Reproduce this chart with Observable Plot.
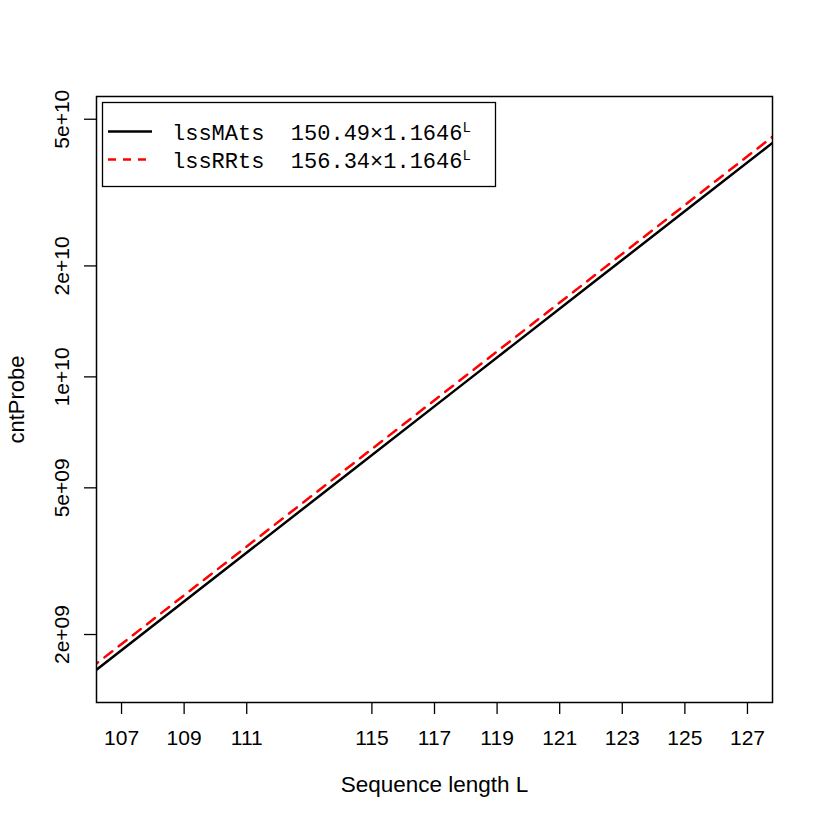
<!DOCTYPE html>
<html>
<head>
<meta charset="utf-8">
<script src="https://cdn.jsdelivr.net/npm/d3@7"></script>
<script src="https://cdn.jsdelivr.net/npm/@observablehq/plot@0.6"></script>
<style>
  html, body { margin: 0; padding: 0; background: #ffffff; }
  #chart { width: 822px; height: 822px; }
</style>
</head>
<body>
<div id="chart"></div>
<script>
// Sequence length L
const seqLength = [106, 110, 114, 118, 122, 126, 128];
// cntProbe values
const lssMAts = [1.557e9, 2.864e9, 5.268e9, 9.692e9, 1.783e10, 3.280e10, 4.447e10];
const lssRRts = [1.618e9, 2.976e9, 5.473e9, 1.0068e10, 1.852e10, 3.407e10, 4.620e10];

const seriesNames = ["lssMAts", "lssRRts"];
const seriesCoef = ["150.49", "156.34"];
const seriesBase = ["1.1646", "1.1646"];
const seriesColors = ["black", "red"];
const seriesDash = [null, "10,8"];

const xTicks = [107, 109, 111, 115, 117, 119, 121, 123, 125, 127];
const yTicks = [2e9, 5e9, 1e10, 2e10, 5e10];
const yTickLabels = ["2e+09", "5e+09", "1e+10", "2e+10", "5e+10"];

const rows = seqLength.map((L, i) => ({L, ma: lssMAts[i], rr: lssRRts[i]}));

const sansFont = "'Liberation Sans', Arial, Helvetica, sans-serif";

const plot = Plot.plot({
  width: 822,
  height: 822,
  marginLeft: 96,
  marginRight: 50,
  marginTop: 96,
  marginBottom: 120,
  style: {fontFamily: sansFont, fontSize: "21px", color: "black", background: "white"},
  x: {domain: [106.2, 127.8]},
  y: {type: "log", domain: [1.308e9, 5.763e10]},
  marks: [
    Plot.line(rows, {x: "L", y: "ma", stroke: seriesColors[0], strokeWidth: 2.5, clip: true}),
    Plot.line(rows, {x: "L", y: "rr", stroke: seriesColors[1], strokeWidth: 2.5, strokeDasharray: seriesDash[1], clip: true}),
    Plot.frame({stroke: "black", strokeWidth: 1.5}),
    Plot.axisX(xTicks, {tickSize: 12, tickPadding: 16, fontSize: 21, label: null, strokeWidth: 1.3}),
    Plot.axisY(yTicks, {tickSize: 12, tickFormat: () => "", label: null, strokeWidth: 1.3}),
    Plot.text(yTicks, {
      y: d => d, text: (d, i) => yTickLabels[i], frameAnchor: "left",
      dx: -28, rotate: -90, lineAnchor: "bottom", textAnchor: "middle", fontSize: 21
    }),
    Plot.text(["cntProbe"], {
      text: d => d, frameAnchor: "left", dx: -73, rotate: -90,
      lineAnchor: "bottom", textAnchor: "middle", fontSize: 22
    }),
    Plot.text(["Sequence length L"], {
      text: d => d, frameAnchor: "bottom", dy: 89,
      lineAnchor: "bottom", textAnchor: "middle", fontSize: 22.5
    })
  ]
});

// Legend (drawn on top of the plot SVG)
const svg = d3.select(plot);
const lg = svg.append("g").attr("class", "legend").attr("text-anchor", "start");
lg.append("rect")
  .attr("x", 102.5).attr("y", 102.5).attr("width", 393).attr("height", 84)
  .attr("fill", "white").attr("stroke", "black").attr("stroke-width", 1.3);
seriesNames.forEach((name, i) => {
  const yLine = 131.5 + i * 28;
  const yText = 140 + i * 28;
  const ln = lg.append("line")
    .attr("x1", 108).attr("x2", 152).attr("y1", yLine).attr("y2", yLine)
    .attr("stroke", seriesColors[i]).attr("stroke-width", 2.5);
  if (seriesDash[i]) ln.attr("stroke-dasharray", "8,7");
  const t = lg.append("text")
    .attr("x", 172).attr("y", yText)
    .attr("text-anchor", "start")
    .attr("font-family", "'Liberation Mono', 'Courier New', monospace")
    .attr("font-size", 22)
    .attr("fill", "black")
    .attr("xml:space", "preserve")
    .style("white-space", "pre");
  t.append("tspan").text(`${name}  ${seriesCoef[i]}\u00d7${seriesBase[i]}`);
  t.append("tspan").attr("dy", -8.5).attr("font-size", 14).text("L");
});

document.getElementById("chart").appendChild(plot);
</script>
</body>
</html>
